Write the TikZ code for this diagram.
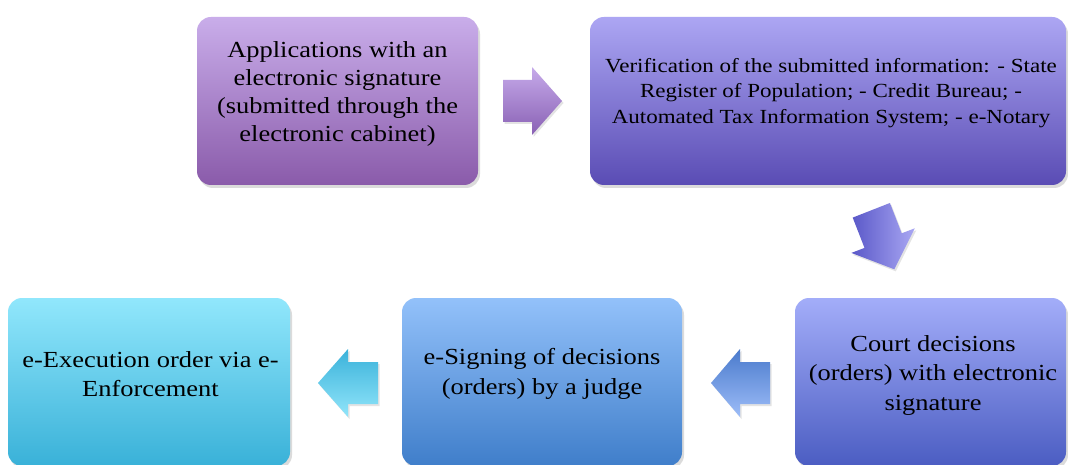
\documentclass[tikz,border=0pt]{standalone}
\usepackage{fontspec}
\setmainfont[FakeStretch=1.15]{Liberation Serif}
\usetikzlibrary{shadows}
\definecolor{aTop}{HTML}{C9ADEA}
\definecolor{aBot}{HTML}{8A5BAA}
\definecolor{bTop}{HTML}{ACA6F3}
\definecolor{bBot}{HTML}{5A4CB4}
\definecolor{cTop}{HTML}{A3ADF9}
\definecolor{cBot}{HTML}{4B5DC2}
\definecolor{dTop}{HTML}{93C1FA}
\definecolor{dBot}{HTML}{3F7ECA}
\definecolor{eTop}{HTML}{91E7FC}
\definecolor{eBot}{HTML}{39B1D8}
\definecolor{arAtop}{HTML}{C6AAEA}
\definecolor{arAbot}{HTML}{8961B4}
\definecolor{arBdark}{HTML}{5A58C8}
\definecolor{arBlight}{HTML}{A9A7F3}
\definecolor{arCtop}{HTML}{4A7ACC}
\definecolor{arCbot}{HTML}{9DBDF8}
\definecolor{arDtop}{HTML}{3AB2DA}
\definecolor{arDbot}{HTML}{91E5FA}
\tikzset{
  stepbox/.style={rectangle, rounded corners=14pt, inner sep=0pt, draw=none,
    drop shadow={shadow xshift=2pt, shadow yshift=-3pt, opacity=0.28}},
  boxtext/.style={align=center, inner sep=0pt, text=black,
    font=\fontsize{23}{29.5}\selectfont},
  blockarrow/.style={draw=none,
    drop shadow={shadow xshift=1.5pt, shadow yshift=-2pt, opacity=0.22}},
}
\begin{document}
\begin{tikzpicture}[x=1pt,y=-1pt]
\clip (0,0) rectangle (1068,465);
\fill[white] (0,0) rectangle (1068,465);

% boxes
\node[stepbox, minimum width=281pt, minimum height=168pt, top color=aTop, bottom color=aBot] (A) at (337.5,101) {};
\node[stepbox, minimum width=476pt, minimum height=168pt, top color=bTop, bottom color=bBot] (B) at (828,101) {};
\node[stepbox, minimum width=271pt, minimum height=168pt, top color=cTop, bottom color=cBot] (C) at (930.5,382) {};
\node[stepbox, minimum width=280pt, minimum height=168pt, top color=dTop, bottom color=dBot] (D) at (542,382) {};
\node[stepbox, minimum width=282pt, minimum height=168pt, top color=eTop, bottom color=eBot] (E) at (149,382) {};

% texts
\node[boxtext, font=\fontsize{23}{28}\selectfont] (tA) at (337.5,93.5)
  {Applications with an\\electronic signature\\(submitted through the\\electronic cabinet)};
\node[boxtext, font=\fontsize{20}{25.8}\selectfont] (tB) at (831,93)
  {Verification of the submitted information: - State\\Register of Population; - Credit Bureau; -\\Automated Tax Information System; - e-Notary};
\node[boxtext] (tC) at (933,375.5)
  {Court decisions\\(orders) with electronic\\signature};
\node[boxtext] (tD) at (542,374)
  {e-Signing of decisions\\(orders) by a judge};
\node[boxtext] (tE) at (150.5,374)
  {e-Execution order via e-\\Enforcement};

% block arrows
\path[blockarrow, top color=arAtop, bottom color=arAbot]
  (503,80) -- (532,80) -- (532,67) -- (562,101) -- (532,135) -- (532,122) -- (503,122) -- cycle;
\path[blockarrow, left color=arBdark, right color=arBlight]
  (852.7,217.6) -- (889.9,203.0) -- (901.7,233.3) -- (914.8,228.3) -- (894.3,269.3)
  -- (851.4,252.9) -- (864.5,247.9) -- cycle;
\path[blockarrow, top color=arCtop, bottom color=arCbot]
  (770,362) -- (740,362) -- (740,349) -- (711,383) -- (740,417) -- (740,404) -- (770,404) -- cycle;
\path[blockarrow, top color=arDtop, bottom color=arDbot]
  (378,362) -- (348,362) -- (348,349) -- (318,383) -- (348,417) -- (348,404) -- (378,404) -- cycle;
\end{tikzpicture}
\end{document}
